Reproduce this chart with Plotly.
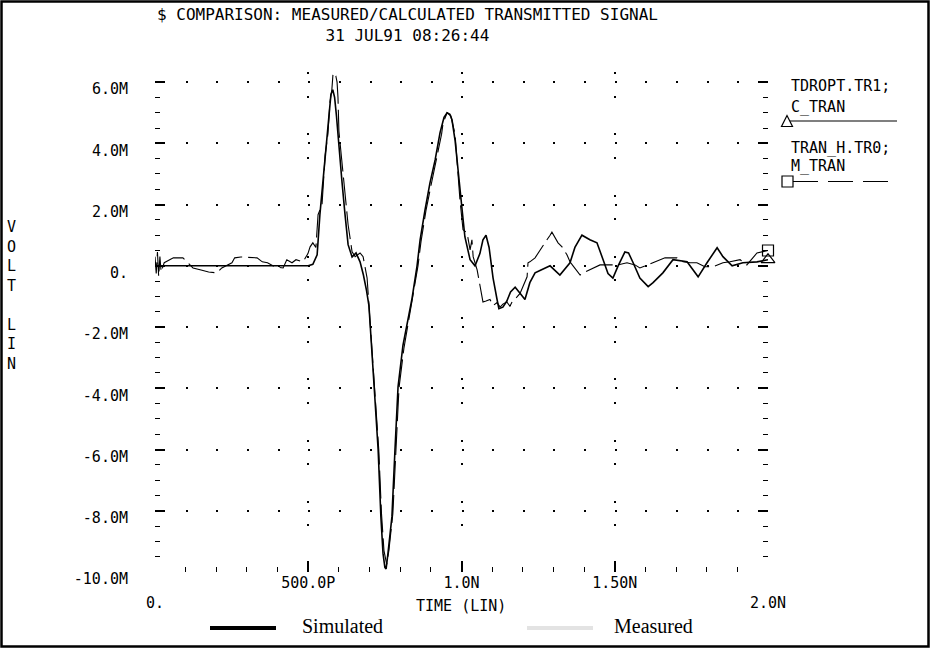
import plotly.graph_objects as go

# ---------------- data (time in ns, voltage in mV) ----------------
sim_t = [0.000, 0.500, 0.515, 0.529, 0.538, 0.548, 0.561, 0.568, 0.574, 0.580,
         0.586, 0.592, 0.600, 0.610, 0.620, 0.630, 0.643, 0.656, 0.669, 0.680,
         0.690, 0.698, 0.715, 0.728, 0.737, 0.744, 0.750, 0.754, 0.760, 0.773,
         0.783, 0.793, 0.809, 0.825, 0.838, 0.855, 0.865, 0.881, 0.897, 0.914,
         0.930, 0.943, 0.953, 0.962, 0.969, 0.979, 0.989, 1.002, 1.011, 1.028,
         1.044, 1.060, 1.070, 1.080, 1.090, 1.103, 1.116, 1.122, 1.135, 1.148,
         1.160, 1.175, 1.191, 1.207, 1.223, 1.240, 1.256, 1.289, 1.321, 1.354,
         1.370, 1.393, 1.419, 1.442, 1.462, 1.478, 1.494, 1.511, 1.533, 1.545,
         1.560, 1.582, 1.609, 1.625, 1.657, 1.690, 1.736, 1.772, 1.801, 1.834,
         1.853, 1.883, 1.918, 1.964, 2.000]
sim_v = [0.00, 0.00, 0.05, 0.36, 1.67, 2.75, 4.05, 4.93, 5.60, 5.75,
         5.50, 4.90, 3.86, 2.75, 1.67, 0.69, 0.29, 0.42, 0.13, -0.30,
         -0.80, -1.30, -3.95, -6.00, -8.20, -9.40, -9.85, -9.90, -9.40, -8.20,
         -6.00, -3.95, -2.60, -1.70, -1.10, 0.00, 0.85, 1.83, 2.70, 3.46,
         4.35, 4.85, 5.00, 4.95, 4.77, 4.10, 3.00, 1.83, 0.95, 0.20,
         0.00, 0.40, 0.85, 1.00, 0.60, -0.40, -1.10, -1.40, -1.35, -1.15,
         -0.85, -0.70, -0.90, -1.10, -0.55, -0.23, -0.15, 0.00, -0.30, 0.10,
         0.60, 1.00, 0.85, 0.75, 0.20, -0.25, -0.40, 0.00, 0.45, 0.42,
         0.10, -0.40, -0.68, -0.55, -0.23, 0.20, 0.13, -0.36, 0.10, 0.59,
         0.30, 0.00, 0.10, 0.13, 0.20]

meas_t = [0.000, 0.004, 0.008, 0.012, 0.016, 0.020, 0.030, 0.049, 0.060, 0.091,
          0.107, 0.124, 0.147, 0.175, 0.202, 0.218, 0.251, 0.260, 0.280, 0.333,
          0.350, 0.367, 0.390, 0.418, 0.430, 0.447, 0.460, 0.483, 0.499, 0.506,
          0.515, 0.525, 0.532, 0.545, 0.555, 0.564, 0.571, 0.577, 0.581, 0.590,
          0.594, 0.597, 0.600, 0.610, 0.620, 0.630, 0.643, 0.653, 0.669, 0.679,
          0.692, 0.702, 0.717, 0.730, 0.739, 0.747, 0.756, 0.763, 0.776, 0.786,
          0.796, 0.812, 0.828, 0.840, 0.858, 0.868, 0.884, 0.900, 0.917, 0.935,
          0.940, 0.953, 0.965, 0.979, 0.995, 1.005, 1.018, 1.028, 1.034, 1.038,
          1.051, 1.060, 1.064, 1.070, 1.080, 1.093, 1.103, 1.116, 1.126, 1.135,
          1.148, 1.158, 1.168, 1.178, 1.191, 1.207, 1.214, 1.217, 1.223, 1.240,
          1.256, 1.272, 1.289, 1.295, 1.315, 1.328, 1.344, 1.354, 1.364, 1.370,
          1.387, 1.403, 1.419, 1.429, 1.452, 1.478, 1.511, 1.540, 1.566, 1.582,
          1.605, 1.625, 1.664, 1.703, 1.723, 1.746, 1.768, 1.794, 1.821, 1.853,
          1.876, 1.909, 1.931, 1.964, 2.000]
meas_v = [0.30, -0.25, 0.45, -0.35, 0.30, -0.20, 0.10, 0.20, 0.26, 0.26,
          0.10, -0.07, -0.13, -0.20, -0.23, -0.07, 0.10, 0.26, 0.29, 0.26,
          0.13, 0.10, -0.03, -0.07, 0.20, 0.10, 0.20, 0.13, 0.40, 0.62,
          0.75, 0.60, 1.67, 2.00, 3.60, 4.30, 5.36, 5.75, 6.30, 6.20,
          6.00, 5.50, 4.40, 3.30, 2.20, 1.34, 0.46, 0.30, 0.42, 0.30,
          -0.40, -1.80, -4.00, -6.00, -8.10, -9.30, -9.75, -9.30, -8.10, -6.00,
          -4.00, -2.70, -1.80, -1.15, 0.00, 0.80, 1.80, 2.60, 3.40, 4.30,
          4.67, 5.00, 4.90, 4.30, 2.15, 1.18, 1.08, 0.52, 0.85, 0.30,
          -0.13, -0.68, -0.88, -1.18, -1.15, -1.10, -1.30, -1.20, -1.35, -1.25,
          -1.18, -1.32, -1.12, -1.05, -0.90, -0.50, -0.36, 0.10, 0.13, 0.26,
          0.52, 0.75, 1.00, 1.10, 0.75, 0.62, 0.36, 0.13, 0.00, -0.07,
          -0.30, -0.20, -0.13, -0.07, 0.03, 0.03, 0.03, 0.10, 0.03, -0.07,
          0.03, 0.10, 0.26, 0.26, 0.13, 0.10, 0.10, -0.03, -0.03, 0.10,
          0.13, 0.20, 0.03, 0.42, 0.50]

x_tickvals = [0.0, 0.5, 1.0, 1.5, 2.0]
x_ticktext = ["<br>0.", "500.0P", "1.0N", "1.50N", "<br>2.0N"]
y_tickvals = [-10, -8, -6, -4, -2, 0, 2, 4, 6]
y_ticktext = ["-10.0M", "-8.0M", "-6.0M", "-4.0M", "-2.0M", "0.", "2.0M", "4.0M", "6.0M"]

title_text = "$ COMPARISON: MEASURED/CALCULATED TRANSMITTED SIGNAL"
date_text = "31 JUL91 08:26:44"
x_title = "TIME (LIN)"
y_title = "V<br>O<br>L<br>T<br><br>L<br>I<br>N"
sim_labels = ["TDROPT.TR1;", "C_TRAN"]
meas_labels = ["TRAN_H.TR0;", "M_TRAN"]
legend_names = ["Simulated", "Measured"]
legend_colors = ["black", "#e3e3e3"]

# ---------------- geometry ----------------
W, H = 930, 648
L, R, T, B = 155, 162, 72, 76
PW, PH = W - L - R, H - T - B


def px(x):
    return (x - L) / PW


def py(y):
    return (H - B - y) / PH


MONO = "DejaVu Sans Mono"

fig = go.Figure()
fig.add_trace(go.Scatter(x=sim_t, y=sim_v, mode="lines", name="C_TRAN", showlegend=False,
                         line=dict(color="black", width=1.6)))
fig.add_trace(go.Scatter(x=meas_t, y=meas_v, mode="lines", name="M_TRAN", showlegend=False,
                         line=dict(color="black", width=1.1, dash="28px,6px")))
# end markers
fig.add_trace(go.Scatter(x=[sim_t[-1]], y=[sim_v[-1]], mode="markers", showlegend=False,
                         cliponaxis=False,
                         marker=dict(symbol="triangle-up-open", size=12, color="black",
                                     line=dict(width=1.2, color="black"))))
fig.add_trace(go.Scatter(x=[meas_t[-1]], y=[meas_v[-1]], mode="markers", showlegend=False,
                         cliponaxis=False,
                         marker=dict(symbol="square-open", size=11, color="black",
                                     line=dict(width=1.2, color="black"))))

tick_font = dict(family=MONO, size=15, color="black")

fig.update_xaxes(range=[0, 2.0], showline=False, zeroline=False,
                 tickmode="array", tickvals=x_tickvals, ticktext=x_ticktext,
                 ticks="inside", ticklen=11, tickwidth=1.5, tickcolor="black",
                 tickfont=tick_font,
                 showgrid=True, gridcolor="black", gridwidth=2,
                 griddash="2px,21.5px,2px,35.75px",
                 minor=dict(dtick=0.1, tick0=0, ticks="inside", ticklen=5,
                            tickwidth=1.3, tickcolor="black", showgrid=False))
fig.update_yaxes(range=[-10, 6.33], showline=False, zeroline=False,
                 tickmode="array", tickvals=y_tickvals, ticktext=y_ticktext,
                 ticks="inside", ticklen=10, tickwidth=1.5, tickcolor="black",
                 mirror="ticks", tickfont=tick_font, ticklabelstandoff=26,
                 ticklabelshift=7,
                 showgrid=True, gridcolor="black", gridwidth=2,
                 griddash="2px,28.65px",
                 minor=dict(dtick=0.5, tick0=0, ticks="inside", ticklen=5,
                            tickwidth=1.3, tickcolor="black", showgrid=False))

ann = []
ann.append(dict(x=px(407), y=py(25), xref="paper", yref="paper",
                text=title_text + "<br>" + date_text,
                showarrow=False, xanchor="center", yanchor="middle", align="center",
                font=dict(family=MONO, size=16, color="black")))
ann.append(dict(x=px(461), y=py(606), xref="paper", yref="paper", text=x_title,
                showarrow=False, xanchor="center", yanchor="middle",
                font=dict(family=MONO, size=15, color="black")))
ann.append(dict(x=px(11), y=py(295), xref="paper", yref="paper", text=y_title,
                showarrow=False, xanchor="center", yanchor="middle",
                font=dict(family=MONO, size=15, color="black")))
for txt, yy in zip(sim_labels + meas_labels, [86, 107, 148, 166]):
    ann.append(dict(x=px(789), y=py(yy), xref="paper", yref="paper", text=txt,
                    showarrow=False, xanchor="left", yanchor="middle",
                    font=dict(family=MONO, size=15, color="black")))
# bottom key texts
for txt, xx in zip(legend_names, [300, 612]):
    ann.append(dict(x=px(xx), y=py(626), xref="paper", yref="paper", text=txt,
                    showarrow=False, xanchor="left", yanchor="middle",
                    font=dict(family="Liberation Serif", size=20, color="black")))

shapes = []
# outer frame
shapes.append(dict(type="rect", xref="paper", yref="paper",
                   x0=px(1.5), x1=px(928.5), y0=py(646.5), y1=py(1.5),
                   line=dict(color="black", width=2.5)))
# HSPICE-style key on the right
shapes.append(dict(type="line", xref="paper", yref="paper",
                   x0=px(789), x1=px(897), y0=py(121), y1=py(121),
                   line=dict(color="black", width=1.2)))
tri = "M {} {} L {} {} L {} {} Z".format(px(787), py(115.5), px(781.5), py(126.5), px(792.5), py(126.5))
shapes.append(dict(type="path", xref="paper", yref="paper", path=tri,
                   line=dict(color="black", width=1.2), fillcolor="white"))
shapes.append(dict(type="line", xref="paper", yref="paper",
                   x0=px(793), x1=px(897), y0=py(181.5), y1=py(181.5),
                   line=dict(color="black", width=1.2, dash="25px,10px")))
shapes.append(dict(type="rect", xref="paper", yref="paper",
                   x0=px(782), x1=px(793), y0=py(187), y1=py(176),
                   line=dict(color="black", width=1.2)))
# bottom key line samples
for col, x0 in zip(legend_colors, [210, 527]):
    shapes.append(dict(type="line", xref="paper", yref="paper",
                       x0=px(x0), x1=px(x0 + 66), y0=py(628), y1=py(628),
                       line=dict(color=col, width=4)))

fig.update_layout(width=W, height=H, margin=dict(l=L, r=R, t=T, b=B, autoexpand=False),
                  paper_bgcolor="white", plot_bgcolor="white",
                  annotations=ann, shapes=shapes, showlegend=False)

fig.write_html("out.html", config={"displayModeBar": False},
               post_script="document.body.style.margin='0px';document.body.style.overflow='hidden';")
